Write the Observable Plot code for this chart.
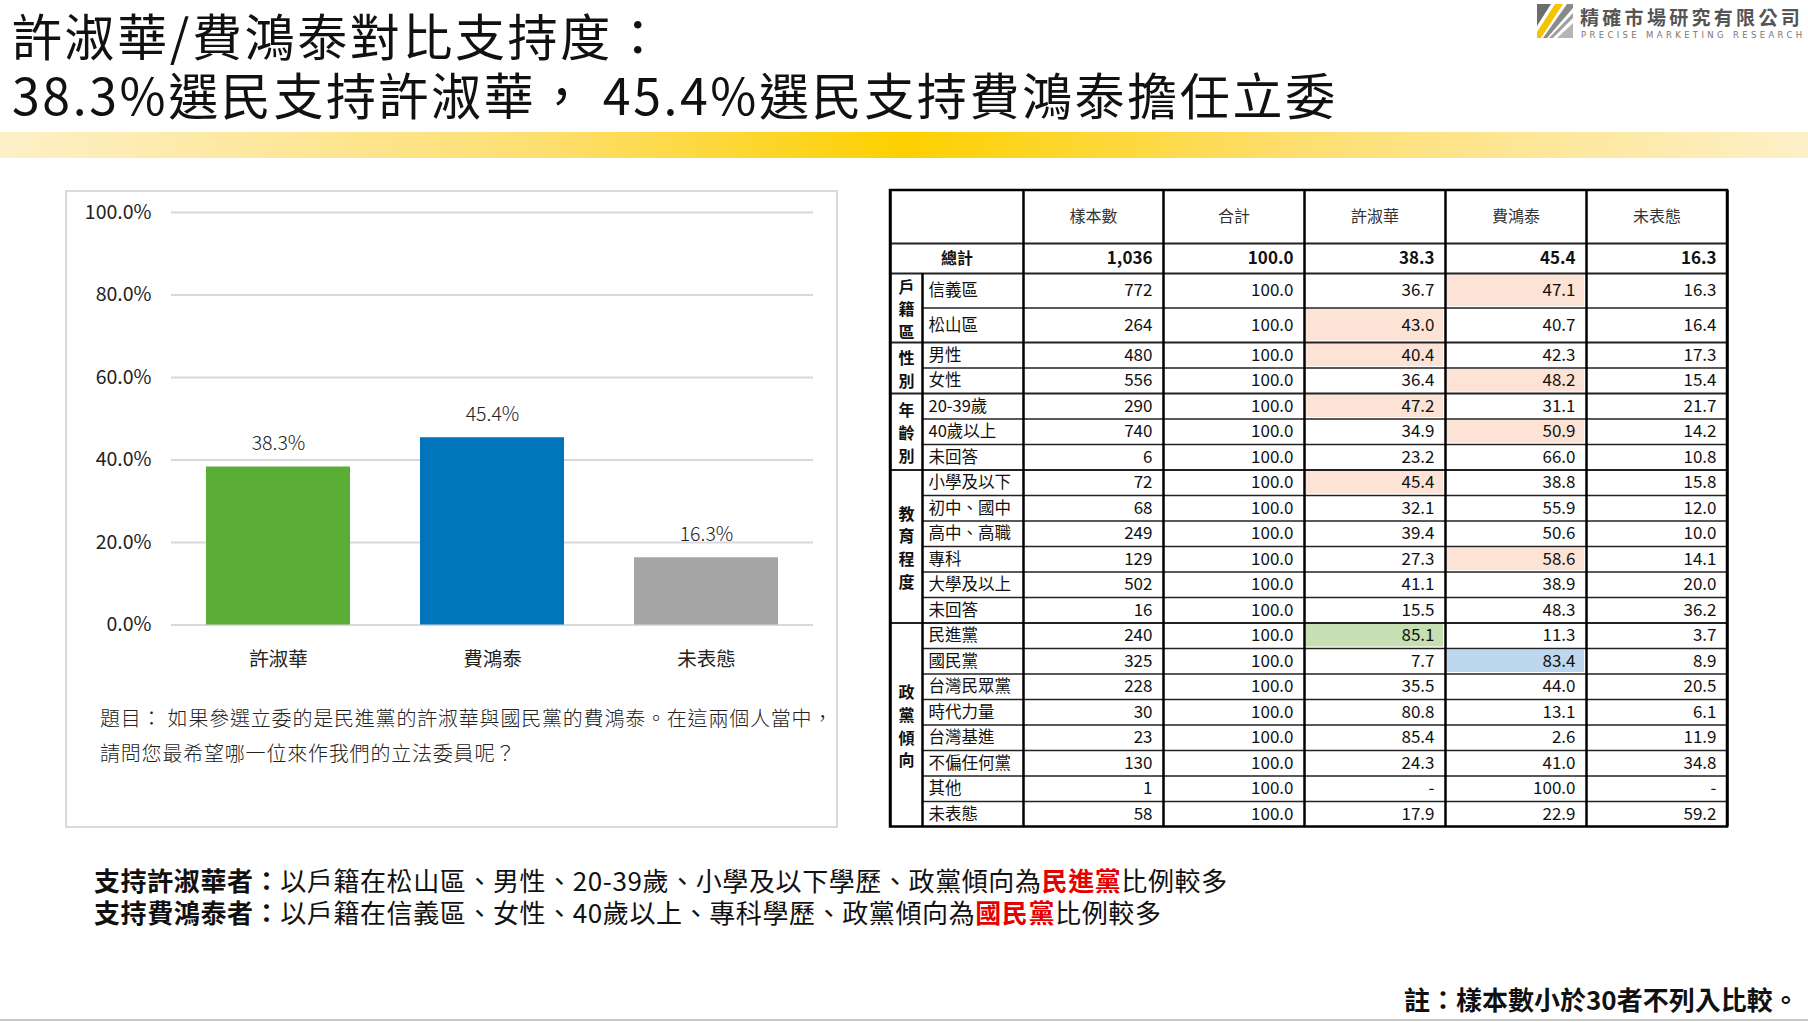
<!DOCTYPE html>
<html>
<head>
<meta charset="utf-8">
<script src="https://cdn.jsdelivr.net/npm/d3@7"></script>
<script src="https://cdn.jsdelivr.net/npm/@observablehq/plot@0.6"></script>
<style>
  html, body { margin: 0; padding: 0; background: #fff; }
  body { width: 1808px; height: 1022px; position: relative; overflow: hidden;
         font-family: "Noto Sans CJK TC", "Noto Sans", sans-serif; color: #111; }
  .abs { position: absolute; }
  .title { left: 12px; font-size: 50px; line-height: 60px; color: #111; white-space: nowrap; letter-spacing: 2.6px; }
  #band { left: 0; top: 132px; width: 1808px; height: 26px;
          background: linear-gradient(to right, #fdf0c8 0%, #fddf70 30%, #fdd000 50%, #fddf70 72%, #fdf0c8 100%); }
  #logoText { left: 1580px; top: 3px; font-size: 19px; font-weight: 700; color: #555; letter-spacing: 3.3px; white-space: nowrap; }
  #logoSub { left: 1581px; top: 30px; font-size: 8.5px; color: #777; letter-spacing: 3.35px; white-space: nowrap; font-family: "DejaVu Sans", sans-serif; }
  #panel { left: 65px; top: 190px; width: 769px; height: 634px; border: 2px solid #dadada; }
  .question { left: 100px; font-size: 20px; line-height: 30px; color: #222; white-space: nowrap; font-weight: 300; letter-spacing: 0.8px; }
  .summary { left: 94px; font-size: 26px; line-height: 30px; color: #111; white-space: nowrap; letter-spacing: 0.6px; }
  .summary b { font-weight: 700; }
  .summary .red { color: #e60000; font-weight: 700; }
  #note { left: 1404px; top: 980px; font-size: 26px; font-weight: 700; white-space: nowrap; color: #111; }
  #bottomLine { left: 0; top: 1019px; width: 1808px; height: 2px; background: #c8c8c8; }
</style>
</head>
<body>
<div class="abs title" style="top:4px">許淑華/費鴻泰對比支持度：</div>
<div class="abs title" style="top:63px">38.3%選民支持許淑華， 45.4%選民支持費鴻泰擔任立委</div>
<div id="band" class="abs"></div>
<svg class="abs" style="left:1537px;top:4px" width="36" height="34" viewBox="0 0 36 34">
  <polygon points="0,0 14,0 0,22" fill="#6d6d6d"/>
  <polygon points="18,0 26,0 4,34 0,34 0,28" fill="#f5c400"/>
  <polygon points="30,0 36,0 36,4 10,34 6,34" fill="#8a8a8a"/>
  <polygon points="36,9 36,14 16,34 12,34" fill="#a0a0a0"/>
  <polygon points="36,19 36,34 20,34" fill="#b5b5b5"/>
</svg>
<div id="logoText" class="abs">精確市場研究有限公司</div>
<div id="logoSub" class="abs">PRECISE MARKETING RESEARCH</div>
<div id="panel" class="abs"></div>
<div id="chart" class="abs" style="left:66px;top:192px"></div>
<div class="abs question" style="top:703px">題目： 如果參選立委的是民進黨的許淑華與國民黨的費鴻泰。在這兩個人當中，</div>
<div class="abs question" style="top:738px">請問您最希望哪一位來作我們的立法委員呢？</div>
<div id="table" class="abs" style="left:888px;top:188px"></div>
<div class="abs summary" style="top:865px"><b>支持許淑華者：</b>以戶籍在松山區、男性、20-39歲、小學及以下學歷、政黨傾向為<span class="red">民進黨</span>比例較多</div>
<div class="abs summary" style="top:897px"><b>支持費鴻泰者：</b>以戶籍在信義區、女性、40歲以上、專科學歷、政黨傾向為<span class="red">國民黨</span>比例較多</div>
<div id="note" class="abs">註：樣本數小於30者不列入比較。</div>
<div id="bottomLine" class="abs"></div>

<script>
// ---------------- data ----------------
const candidates = ["許淑華", "費鴻泰", "未表態"];
const support = [38.3, 45.4, 16.3];
const yTicks = [0, 20, 40, 60, 80, 100];

const tableColumns = ["樣本數", "合計", "許淑華", "費鴻泰", "未表態"];
const overallLabel = "總計";
const overallRow = ["1,036", "100.0", "38.3", "45.4", "16.3"];

const groupNames = ["戶籍區", "性別", "年齡別", "教育程度", "政黨傾向"];
const groupSizes = [2, 2, 3, 6, 8];
const rowLabels = ["信義區", "松山區", "男性", "女性", "20-39歲", "40歲以上", "未回答",
  "小學及以下", "初中、國中", "高中、高職", "專科", "大學及以上", "未回答",
  "民進黨", "國民黨", "台灣民眾黨", "時代力量", "台灣基進", "不偏任何黨", "其他", "未表態"];
const sampleSizes = [772, 264, 480, 556, 290, 740, 6, 72, 68, 249, 129, 502, 16, 240, 325, 228, 30, 23, 130, 1, 58];
const rowTotals = [100, 100, 100, 100, 100, 100, 100, 100, 100, 100, 100, 100, 100, 100, 100, 100, 100, 100, 100, 100, 100];
const hsuShares = [36.7, 43.0, 40.4, 36.4, 47.2, 34.9, 23.2, 45.4, 32.1, 39.4, 27.3, 41.1, 15.5, 85.1, 7.7, 35.5, 80.8, 85.4, 24.3, null, 17.9];
const feiShares = [47.1, 40.7, 42.3, 48.2, 31.1, 50.9, 66.0, 38.8, 55.9, 50.6, 58.6, 38.9, 48.3, 11.3, 83.4, 44.0, 13.1, 2.6, 41.0, 100.0, 22.9];
const undecidedShares = [16.3, 16.4, 17.3, 15.4, 21.7, 14.2, 10.8, 15.8, 12.0, 10.0, 14.1, 20.0, 36.2, 3.7, 8.9, 20.5, 6.1, 11.9, 34.8, null, 59.2];
// highlighted cells: [row label index, column name, kind]
const highlightCells = [
  [0, "費鴻泰", "higher"], [1, "許淑華", "higher"], [2, "許淑華", "higher"], [3, "費鴻泰", "higher"],
  [4, "許淑華", "higher"], [5, "費鴻泰", "higher"], [7, "許淑華", "higher"], [10, "費鴻泰", "higher"],
  [13, "許淑華", "dpp"], [14, "費鴻泰", "kmt"]
];

// ---------------- styles / layout ----------------
const barColors = ["#5aae35", "#0075bb", "#a5a5a5"];
const highlightColors = {higher: "#fce3d5", dpp: "#c6e0b4", kmt: "#bdd7ee"};
const fontCJK = "Noto Sans CJK TC";

// ---------------- bar chart ----------------
const barData = candidates.map((c, i) => ({candidate: c, value: support[i]}));
const chart = Plot.plot({
  width: 770,
  height: 490,
  marginLeft: 105,
  marginRight: 23,
  marginTop: 20,
  marginBottom: 57.5,
  style: {fontFamily: fontCJK, background: "transparent", color: "#222"},
  x: {domain: candidates, paddingInner: 0.327, paddingOuter: 0.1635, label: null},
  y: {domain: [0, 100], label: null},
  color: {domain: candidates, range: barColors},
  marks: [
    Plot.gridY(yTicks, {stroke: "#d9d9d9", strokeOpacity: 1, strokeWidth: 2}),
    Plot.barY(barData, {x: "candidate", y: "value", fill: "candidate"}),
    Plot.text(barData, {x: "candidate", y: "value", text: d => d.value.toFixed(1) + "%", dy: -23,
      fontSize: 19.5, fill: "#222", fontWeight: 300}),
    Plot.axisY(yTicks, {tickSize: 0, tickPadding: 20, tickFormat: d => d.toFixed(1) + "%", fontSize: 19.5, fill: "#222", label: null}),
    Plot.axisX({tickSize: 0, tickPadding: 27, fontSize: 19.5, fill: "#222", label: null})
  ]
});
document.getElementById("chart").appendChild(chart);

// ---------------- table ----------------
const colWidths = [32, 101, 140, 141, 141, 141, 141];
const colEdges = [0];
colWidths.forEach(w => colEdges.push(colEdges[colEdges.length - 1] + w));
const tableW = colEdges[colEdges.length - 1];
const headerH = 53, overallH = 30;
const rowHeights = rowLabels.map((_, i) => i < 2 ? 34.5 : 25.5);
const rowEdges = [headerH + overallH];
rowHeights.forEach(h => rowEdges.push(rowEdges[rowEdges.length - 1] + h));
const tableH = rowEdges[rowEdges.length - 1];

const groupStart = [];
{ let s = 0; groupSizes.forEach(n => { groupStart.push(s); s += n; }); }
const groupOfRow = [];
groupSizes.forEach((n, g) => { for (let k = 0; k < n; k++) groupOfRow.push(g); });

const fmt = v => v == null ? "-" : v.toFixed(1);
const valueCols = [sampleSizes.map(String), rowTotals.map(fmt), hsuShares.map(fmt), feiShares.map(fmt), undecidedShares.map(fmt)];

const cells = [];
rowLabels.forEach((lab, r) => {
  valueCols.forEach((col, c) => {
    cells.push({x: colEdges[c + 3] - 11, y: (rowEdges[r] + rowEdges[r + 1]) / 2, text: col[r]});
  });
});
const labelCells = rowLabels.map((lab, r) => ({x: colEdges[1] + 6, y: (rowEdges[r] + rowEdges[r + 1]) / 2, text: lab}));
const groupCells = groupNames.map((g, i) => ({
  x: (colEdges[0] + colEdges[1]) / 2,
  y: (rowEdges[groupStart[i]] + rowEdges[groupStart[i] + groupSizes[i]]) / 2,
  text: g.split("").join("\n")
}));
const headerCells = tableColumns.map((c, i) => ({x: (colEdges[i + 2] + colEdges[i + 3]) / 2, y: headerH / 2, text: c}));
const overallCells = overallRow.map((v, i) => ({x: colEdges[i + 3] - 11, y: headerH + overallH / 2, text: v}));
const hl = highlightCells.map(([r, col, kind]) => {
  const c = tableColumns.indexOf(col) + 2;
  return {x1: colEdges[c] + 2, x2: colEdges[c + 1] - 2, y1: rowEdges[r] + 1.5, y2: rowEdges[r + 1] - 1.5, kind};
});

// horizontal rules
const hLines = [];
hLines.push({y: headerH, x1: 0, x2: tableW, w: 2});
hLines.push({y: headerH + overallH, x1: 0, x2: tableW, w: 2});
rowLabels.forEach((_, r) => {
  if (r === 0) return;
  const newGroup = groupOfRow[r] !== groupOfRow[r - 1];
  hLines.push({y: rowEdges[r], x1: newGroup ? 0 : colEdges[1], x2: tableW, w: newGroup ? 2 : 1.5});
});
// vertical rules
const vLines = colEdges.map((x, i) => ({x, y1: i === 1 ? headerH + overallH : 0, y2: tableH}));

const table = Plot.plot({
  width: tableW + 4,
  height: tableH + 4,
  margin: 0,
  style: {fontFamily: fontCJK, background: "transparent", color: "#111"},
  x: {type: "linear", domain: [0, tableW], range: [2, tableW + 2], axis: null},
  y: {type: "linear", domain: [0, tableH], range: [2, tableH + 2], axis: null},
  marks: [
    Plot.rect(hl, {x1: "x1", x2: "x2", y1: "y1", y2: "y2", fill: d => highlightColors[d.kind]}),
    Plot.ruleY(hLines, {y: "y", x1: "x1", x2: "x2", stroke: "#222", strokeWidth: "w"}),
    Plot.ruleX(vLines, {x: "x", y1: "y1", y2: "y2", stroke: "#000", strokeWidth: 2.5}),
    Plot.rect([{}], {x1: 0, x2: tableW, y1: 0, y2: tableH, fill: "none", stroke: "#000", strokeWidth: 2.5}),
    Plot.text(headerCells, {x: "x", y: "y", text: "text", fontSize: 16, fill: "#333"}),
    Plot.text([{x: (colEdges[0] + colEdges[2]) / 2, y: headerH + overallH / 2, text: overallLabel}],
      {x: "x", y: "y", text: "text", fontSize: 16, fontWeight: 700, fill: "#111"}),
    Plot.text(overallCells, {x: "x", y: "y", text: "text", textAnchor: "end", fontSize: 17, fontWeight: 700, fill: "#111"}),
    Plot.text(labelCells, {x: "x", y: "y", text: "text", textAnchor: "start", fontSize: 16.5, fill: "#111"}),
    Plot.text(groupCells, {x: "x", y: "y", text: "text", fontSize: 16, fontWeight: 700, lineHeight: 1.42, fill: "#111"}),
    Plot.text(cells, {x: "x", y: "y", text: "text", textAnchor: "end", fontSize: 17, fill: "#111"})
  ]
});
document.getElementById("table").appendChild(table);
</script>
</body>
</html>
